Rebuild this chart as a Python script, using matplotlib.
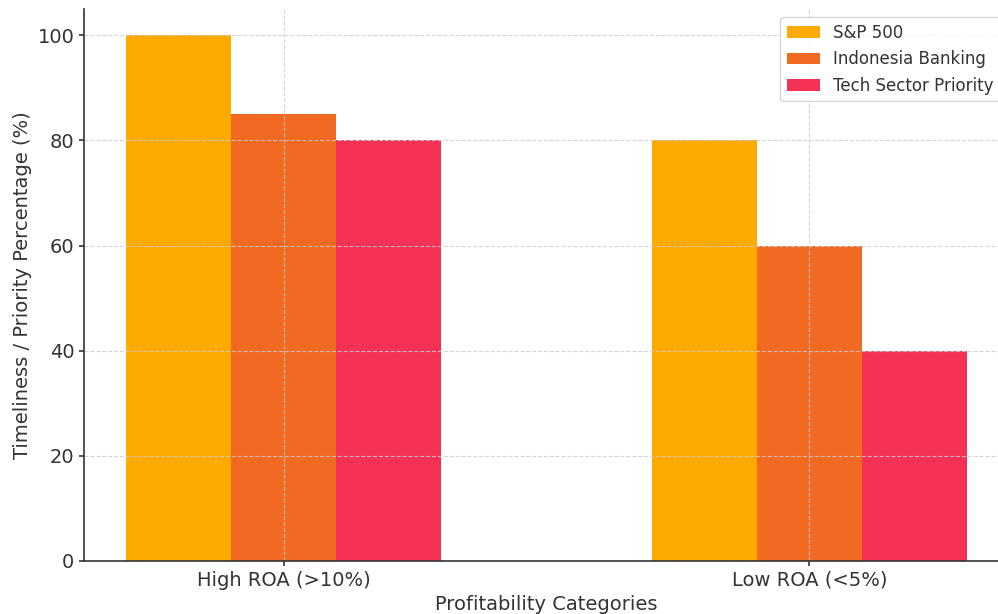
import matplotlib.pyplot as plt
import numpy as np

# Datos
categorias = ['High ROA (>10%)', 'Low ROA (<5%)']
sp500 = [100, 80]
indonesia = [85, 60]
tech = [80, 40]
series = ['S&P 500', 'Indonesia Banking', 'Tech Sector Priority']
colores = ['#FFAA00', '#F26A22', '#F43256']

fig = plt.figure(figsize=(9.98, 6.14), dpi=100)
# el eje se sale un poco por la derecha
ax = fig.add_axes([84 / 998, 53 / 614, 925 / 998, 552 / 614])

x = np.arange(len(categorias))
ancho = 0.2
for i, (vals, nombre, c) in enumerate(zip([sp500, indonesia, tech], series, colores)):
    ax.bar(x + (i - 1) * ancho, vals, ancho, label=nombre, color=c)

ax.set_xticks(x)
ax.set_xticklabels(categorias)
ax.set_xlabel('Profitability Categories', fontsize=14, color='#333333', labelpad=4)
ax.set_ylabel('Timeliness / Priority Percentage (%)', fontsize=14, color='#333333', labelpad=4)
ax.tick_params(labelsize=14, colors='#333333', width=1.2)
ax.grid(True, linestyle='--', color='#cccccc', alpha=0.8)
ax.spines['top'].set_visible(False)
ax.spines['right'].set_visible(False)
for s in ['left', 'bottom']:
    ax.spines[s].set_color('#333333')
    ax.spines[s].set_linewidth(1.2)
ax.legend(loc='upper right', fontsize=12, labelcolor='#333333')

fig.savefig('out.png', dpi=100)
